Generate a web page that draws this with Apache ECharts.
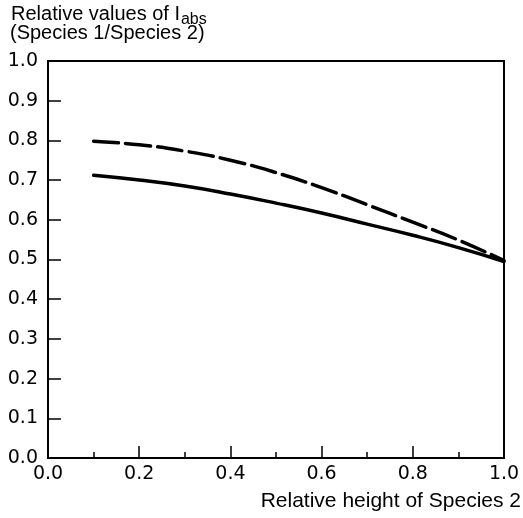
<!DOCTYPE html>
<html>
<head>
<meta charset="utf-8">
<script src="https://cdn.jsdelivr.net/npm/echarts@6/dist/echarts.min.js"></script>
<style>
  html, body { margin: 0; padding: 0; background: #fff; }
  #chart { width: 523px; height: 518px; }
</style>
</head>
<body>
<div id="chart"></div>
<script>
// Relative height of species 2 (x) and the ratio of absorbed light (y)
var heights = [0.1, 0.2, 0.3, 0.4, 0.5, 0.6, 0.7, 0.8, 0.9, 1.0];
var ratioSolid = [0.712, 0.700, 0.685, 0.665, 0.642, 0.617, 0.589, 0.561, 0.530, 0.495];
var ratioDashed = [0.798, 0.789, 0.773, 0.750, 0.719, 0.681, 0.638, 0.594, 0.549, 0.497];

var titleLine1 = 'Relative values of I';
var titleSub = 'abs';
var titleLine2 = '(Species 1/Species 2)';
var xName = 'Relative height of Species 2';

function pairs(xs, ys) {
  return xs.map(function (x, i) { return [x, ys[i]]; });
}

var titleFont = '20px "Liberation Sans", Arial, sans-serif';
var subFont = '16px "Liberation Sans", Arial, sans-serif';
var measure = document.createElement('canvas').getContext('2d');
measure.font = titleFont;
var line1Width = measure.measureText(titleLine1).width;

var chart = echarts.init(document.getElementById('chart'), null, { renderer: 'canvas' });

var axisText = { color: '#000', fontFamily: '"DejaVu Sans", sans-serif', fontSize: 19 };

chart.setOption({
  backgroundColor: '#fff',
  animation: false,
  grid: {
    left: 48, right: 19, top: 61, bottom: 60,
    show: true, borderColor: '#000', borderWidth: 2, backgroundColor: 'transparent'
  },
  xAxis: {
    type: 'value', min: 0, max: 1, interval: 0.2,
    axisLine: { show: true, lineStyle: { color: '#000', width: 2 } },
    axisTick: { show: true, inside: true, length: 12, lineStyle: { color: '#000', width: 1.5 } },
    minorTick: { show: true, splitNumber: 2, length: 6, lineStyle: { color: '#000', width: 1.5 } },
    splitLine: { show: false },
    axisLabel: Object.assign({ margin: 7, formatter: function (v) { return v.toFixed(1); } }, axisText)
  },
  yAxis: {
    type: 'value', min: 0, max: 1, interval: 0.1,
    axisLine: { show: true, lineStyle: { color: '#000', width: 2 } },
    axisTick: { show: true, inside: true, length: 13, lineStyle: { color: '#000', width: 1.5 } },
    splitLine: { show: false },
    axisLabel: Object.assign({ margin: 10, formatter: function (v) { return v.toFixed(1); } }, axisText)
  },
  series: [
    {
      type: 'line', data: pairs(heights, ratioDashed), smooth: 0.5, showSymbol: false,
      lineStyle: { color: '#000', width: 3.5, type: [25, 7], cap: 'round' }
    },
    {
      type: 'line', data: pairs(heights, ratioSolid), smooth: 0.5, showSymbol: false,
      lineStyle: { color: '#000', width: 3.5, type: 'solid', cap: 'round' }
    }
  ],
  graphic: [
    { type: 'text', left: 11, top: 4, style: { text: titleLine1, font: titleFont, fill: '#000' } },
    { type: 'text', left: 11 + line1Width + 1, top: 12, style: { text: titleSub, font: subFont, fill: '#000' } },
    { type: 'text', left: 10, top: 23, style: { text: titleLine2, font: titleFont, fill: '#000' } },
    { type: 'text', right: 2, top: 491, style: { text: xName, font: '21px "Liberation Sans", Arial, sans-serif', fill: '#000' } }
  ]
});
</script>
</body>
</html>
